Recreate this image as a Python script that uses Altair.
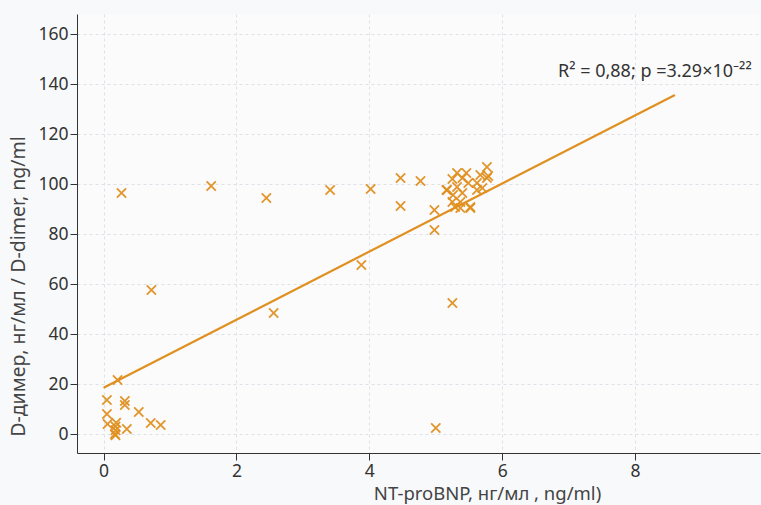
import altair as alt
import pandas as pd

# Scatter points
x_vals = [0.27, 1.62, 2.45, 2.56, 3.41, 4.02, 4.47, 4.47, 4.77, 3.88, 0.72,
          4.98, 4.98, 5.00, 5.25, 5.16, 5.52,
          5.32, 5.46, 5.25, 5.40, 5.67, 5.77, 5.79, 5.17, 5.32, 5.49, 5.62,
          5.26, 5.40, 5.62, 5.70, 5.25, 5.37, 5.52, 5.37, 5.29, 5.77,
          0.05, 0.05, 0.06, 0.21, 0.32, 0.32, 0.53, 0.71, 0.86, 0.35,
          0.18, 0.18, 0.17, 0.18, 0.19]
y_vals = [96.4, 99.2, 94.4, 48.4, 97.6, 98.0, 102.4, 91.2, 101.2, 67.6, 57.6,
          89.6, 81.6, 2.4, 52.4, 97.6, 90.8,
          104.4, 104.4, 102.0, 102.4, 103.6, 106.8, 103.2, 97.6, 98.8, 100.4, 100.4,
          95.6, 96.4, 97.6, 98.4, 92.8, 92.8, 90.4, 90.4, 90.8, 102.4,
          13.6, 8.0, 4.0, 21.6, 13.2, 11.6, 8.8, 4.4, 3.6, 2.0,
          3.0, 1.5, 0.0, -0.5, 4.5]

# Regression line endpoints
fit_x = [0.0, 8.6]
fit_y = [18.5, 135.6]

x_ticks = [0, 2, 4, 6, 8]
y_ticks = [0, 20, 40, 60, 80, 100, 120, 140, 160]

annot_text = ["R\u00b2 = 0,88; p =3.29\u00d710\u207b\u00b2\u00b2"]
annot_x = [6.84]
annot_y = [144.8]

COLOR = "#e0901f"
FONT = "Noto Sans"

pts = pd.DataFrame({"x": x_vals, "y": y_vals})
fit = pd.DataFrame({"x": fit_x, "y": fit_y})
ann = pd.DataFrame({"x": annot_x, "y": annot_y, "t": annot_text})

xscale = alt.Scale(domain=[-0.4, 9.88], nice=False, zero=False)
yscale = alt.Scale(domain=[-7.6, 168], nice=False, zero=False)

common = dict(grid=True, gridDash=[3, 3], gridColor="#dde1e8",
              domainColor="#333333", tickColor="#333333", tickSize=7,
              labelFontSize=17.5, labelColor="#333333",
              titleColor="#444444", labelPadding=2, titleFontWeight="normal",
              labelFont=FONT, titleFont=FONT, titleBaseline="middle")

xaxis = alt.Axis(values=x_ticks, format="d", title="NT-proBNP, нг/мл , ng/ml)",
                 titleX=410, titleY=40, titleAlign="center", titleFontSize=18.5,
                 **common)
yaxis = alt.Axis(values=y_ticks, format="d", title="D-димер, нг/мл / D-dimer, ng/ml",
                 titleX=-59, titleY=272, titleAlign="center", titleFontSize=19.5,
                 **common)

points = alt.Chart(pts).mark_point(shape="M-1,-1L1,1M-1,1L1,-1", size=85,
                                   filled=False, strokeWidth=1.8,
                                   color=COLOR, opacity=0.95).encode(
    x=alt.X("x:Q", scale=xscale, axis=xaxis),
    y=alt.Y("y:Q", scale=yscale, axis=yaxis),
)

line = alt.Chart(fit).mark_line(color=COLOR, strokeWidth=2.2).encode(
    x=alt.X("x:Q", scale=xscale),
    y=alt.Y("y:Q", scale=yscale),
)

text = alt.Chart(ann).mark_text(align="left", baseline="middle", fontSize=18,
                                font=FONT, color="#333333").encode(
    x=alt.X("x:Q", scale=xscale),
    y=alt.Y("y:Q", scale=yscale),
    text="t:N",
)

chart = alt.layer(line, points, text).properties(
    width=683, height=439,
    autosize=alt.AutoSizeParams(type="none"),
    padding={"left": 77, "top": 14, "right": 1, "bottom": 52},
    background="#f8f9fb",
).configure_view(stroke=None, fill="#fbfbfc")

chart.save("out.html", embed_options={"renderer": "svg", "actions": False})
